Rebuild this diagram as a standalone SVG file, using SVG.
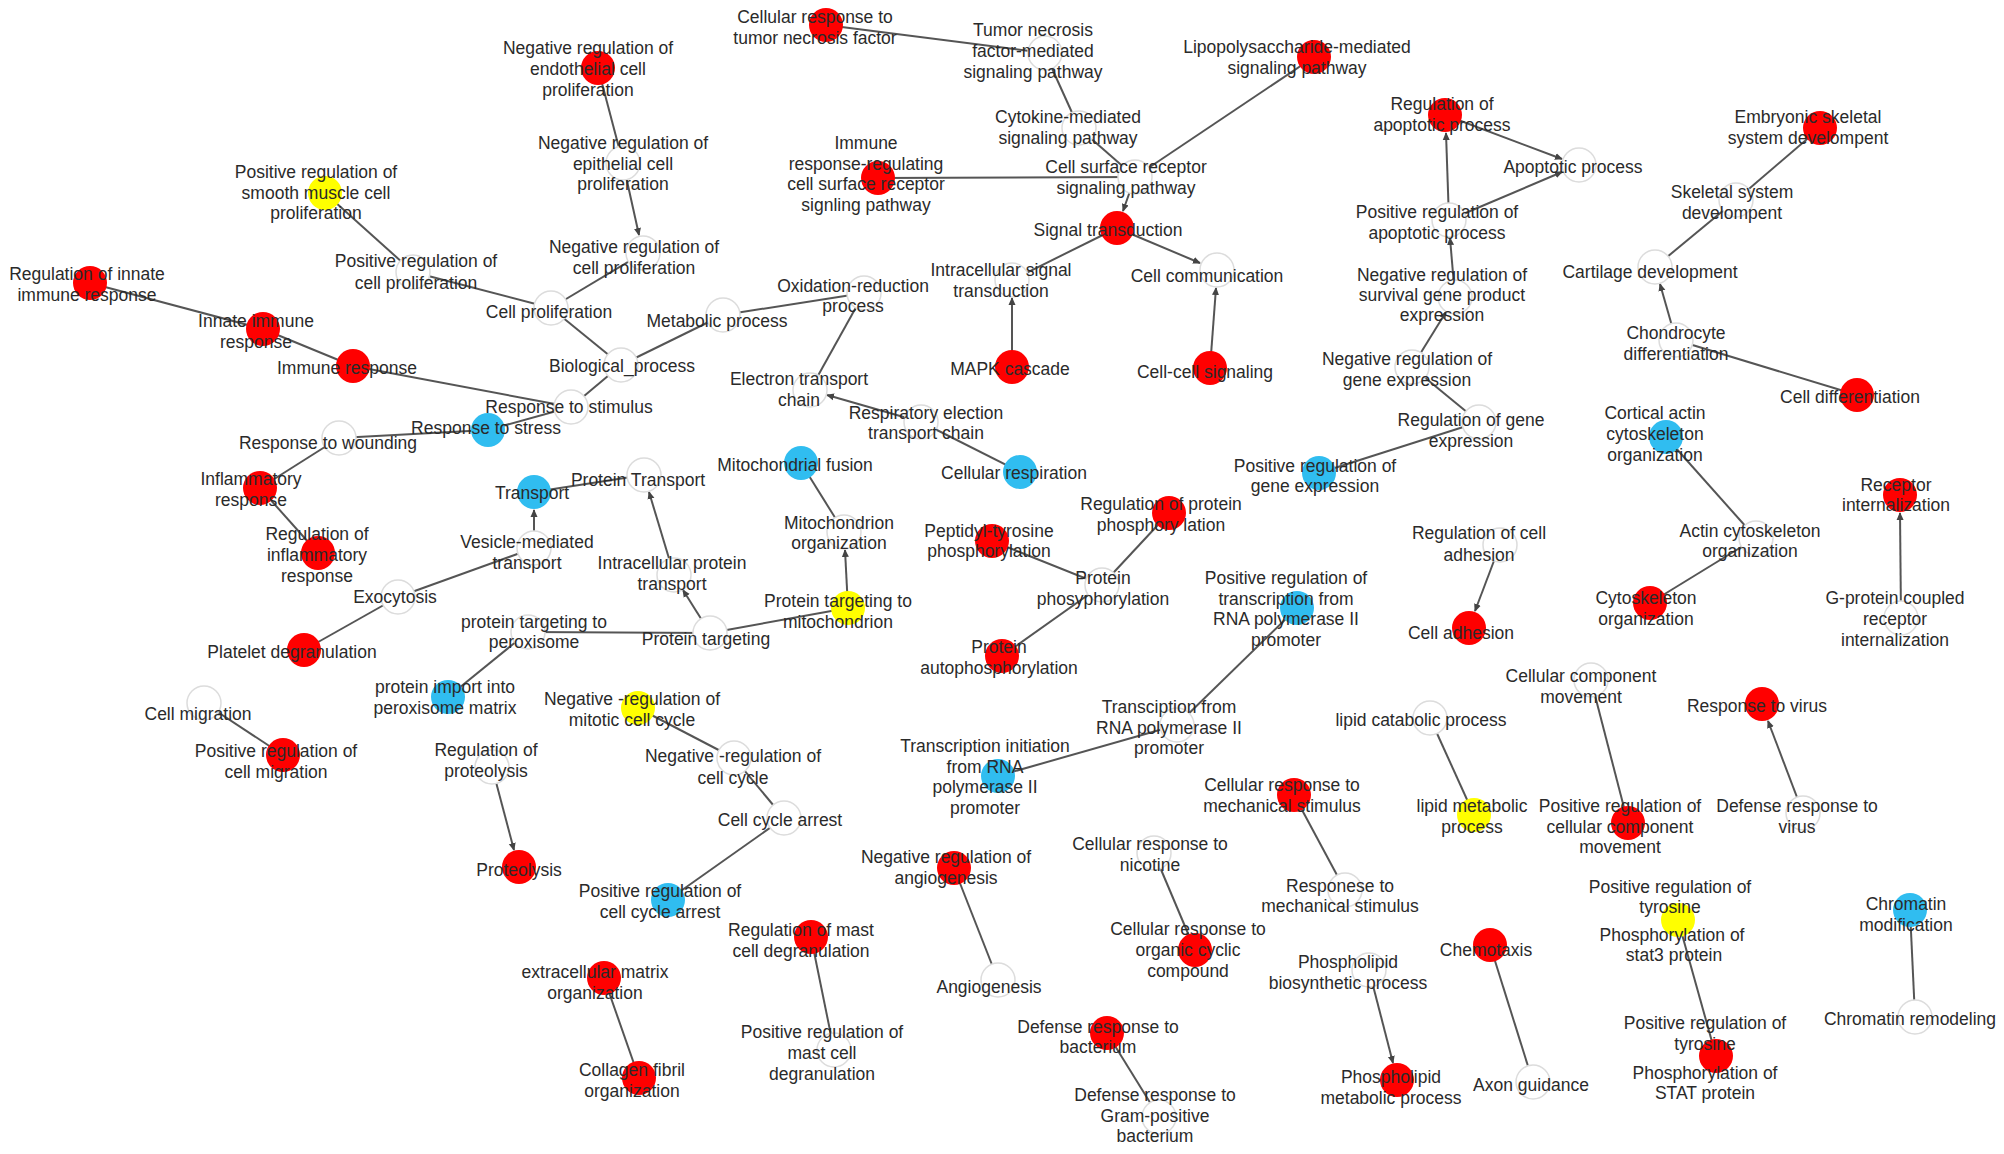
<svg xmlns="http://www.w3.org/2000/svg" width="2004" height="1154" viewBox="0 0 2004 1154">
<style>
text{font-family:"Liberation Sans",Arial,sans-serif;font-size:17.5px;fill:#2a2a2a;text-anchor:middle}
.r{fill:#ff0000}
.b{fill:#30bdf0}
.y{fill:#ffff00}
.w{fill:#ffffff;stroke:#dcdcdc;stroke-width:1.5}
#edges line{stroke:#555;stroke-width:2}
#edges line.a{marker-end:url(#arr)}
</style>
<defs>
<marker id="arr" markerWidth="8" markerHeight="8" refX="7" refY="4" orient="auto" markerUnits="userSpaceOnUse"><path d="M0,0.5 L8,4 L0,7.5 z" fill="#444"/></marker>
</defs>
<rect width="2004" height="1154" fill="#fff"/>
<g id="edges">
<line x1="90" y1="283" x2="263" y2="329"/>
<line x1="263" y1="329" x2="353" y2="366"/>
<line x1="353" y1="366" x2="571" y2="407"/>
<line x1="325" y1="193" x2="413" y2="272"/>
<line x1="413" y1="272" x2="551" y2="308"/>
<line x1="598" y1="68" x2="623" y2="163"/>
<line class="a" x1="623" y1="163" x2="639" y2="235"/>
<line x1="643" y1="253" x2="551" y2="308"/>
<line x1="551" y1="308" x2="621" y2="365"/>
<line x1="723" y1="315" x2="621" y2="365"/>
<line x1="864" y1="293" x2="723" y2="315"/>
<line x1="864" y1="293" x2="810" y2="390"/>
<line class="a" x1="921" y1="422" x2="827" y2="395"/>
<line x1="921" y1="422" x2="1020" y2="472"/>
<line x1="621" y1="365" x2="571" y2="407"/>
<line x1="488" y1="430" x2="571" y2="407"/>
<line x1="488" y1="430" x2="339" y2="438"/>
<line x1="339" y1="438" x2="260" y2="488"/>
<line x1="260" y1="488" x2="318" y2="553"/>
<line class="a" x1="534" y1="548" x2="534" y2="510"/>
<line x1="534" y1="492" x2="644" y2="475"/>
<line class="a" x1="674" y1="575" x2="649" y2="492"/>
<line class="a" x1="710" y1="633" x2="683" y2="590"/>
<line x1="528" y1="632" x2="710" y2="633"/>
<line x1="848" y1="608" x2="710" y2="633"/>
<line class="a" x1="848" y1="608" x2="845" y2="550"/>
<line x1="801" y1="463" x2="844" y2="532"/>
<line x1="448" y1="697" x2="528" y2="632"/>
<line x1="398" y1="597" x2="534" y2="548"/>
<line x1="304" y1="650" x2="398" y2="597"/>
<line x1="204" y1="703" x2="283" y2="755"/>
<line class="a" x1="492" y1="767" x2="514" y2="850"/>
<line x1="638" y1="708" x2="734" y2="758"/>
<line x1="734" y1="758" x2="784" y2="818"/>
<line x1="784" y1="818" x2="668" y2="900"/>
<line x1="811" y1="937" x2="834" y2="1050"/>
<line x1="604" y1="978" x2="639" y2="1078"/>
<line x1="954" y1="868" x2="998" y2="980"/>
<line x1="826" y1="25" x2="1045" y2="53"/>
<line x1="1045" y1="53" x2="1079" y2="128"/>
<line x1="1079" y1="128" x2="1135" y2="177"/>
<line x1="878" y1="178" x2="1135" y2="177"/>
<line x1="1314" y1="57" x2="1135" y2="177"/>
<line class="a" x1="1135" y1="177" x2="1123" y2="211"/>
<line x1="1117" y1="228" x2="1012" y2="280"/>
<line class="a" x1="1117" y1="228" x2="1200" y2="263"/>
<line class="a" x1="1210" y1="368" x2="1216" y2="288"/>
<line class="a" x1="1012" y1="367" x2="1012" y2="298"/>
<line x1="1169" y1="513" x2="1102" y2="585"/>
<line x1="992" y1="541" x2="1102" y2="585"/>
<line x1="1102" y1="585" x2="1002" y2="656"/>
<line x1="1297" y1="608" x2="1177" y2="725"/>
<line x1="1177" y1="725" x2="998" y2="776"/>
<line x1="1319" y1="473" x2="1479" y2="422"/>
<line x1="1412" y1="367" x2="1479" y2="422"/>
<line class="a" x1="1412" y1="367" x2="1446" y2="312"/>
<line class="a" x1="1455" y1="297" x2="1450" y2="238"/>
<line class="a" x1="1449" y1="220" x2="1446" y2="133"/>
<line class="a" x1="1445" y1="115" x2="1562" y2="159"/>
<line class="a" x1="1449" y1="220" x2="1562" y2="172"/>
<line x1="1820" y1="128" x2="1736" y2="200"/>
<line x1="1736" y1="200" x2="1655" y2="267"/>
<line class="a" x1="1676" y1="340" x2="1660" y2="284"/>
<line x1="1676" y1="340" x2="1857" y2="395"/>
<line x1="1666" y1="437" x2="1756" y2="538"/>
<line x1="1756" y1="538" x2="1650" y2="603"/>
<line class="a" x1="1901" y1="618" x2="1900" y2="513"/>
<line class="a" x1="1500" y1="545" x2="1475" y2="611"/>
<line x1="1430" y1="718" x2="1474" y2="815"/>
<line x1="1591" y1="680" x2="1628" y2="823"/>
<line class="a" x1="1803" y1="813" x2="1768" y2="721"/>
<line x1="1294" y1="795" x2="1345" y2="890"/>
<line x1="1154" y1="853" x2="1195" y2="950"/>
<line x1="1107" y1="1033" x2="1159" y2="1117"/>
<line class="a" x1="1369" y1="970" x2="1393" y2="1063"/>
<line x1="1490" y1="945" x2="1533" y2="1082"/>
<line x1="1678" y1="920" x2="1716" y2="1056"/>
<line x1="1910" y1="910" x2="1915" y2="1017"/>
</g>
<g id="n_reg_innate"><circle class="r" cx="90" cy="283" r="17"/><text x="87" y="280">Regulation of innate<tspan x="87" dy="21">immune response</tspan></text></g>
<g id="n_innate"><circle class="r" cx="263" cy="329" r="17"/><text x="256" y="327">Innate immune<tspan x="256" dy="21">response</tspan></text></g>
<g id="n_immune"><circle class="r" cx="353" cy="366" r="17"/><text x="347" y="374">Immune response</text></g>
<g id="n_smooth"><circle class="y" cx="325" cy="193" r="17"/><text x="316" y="178">Positive regulation of<tspan x="316" dy="20.5">smooth muscle cell</tspan><tspan x="316" dy="20.5">proliferation</tspan></text></g>
<g id="n_pos_prolif"><circle class="w" cx="413" cy="272" r="17"/><text x="416" y="267">Positive regulation of<tspan x="416" dy="21.5">cell proliferation</tspan></text></g>
<g id="n_cell_prolif"><circle class="w" cx="551" cy="308" r="17"/><text x="549" y="318">Cell proliferation</text></g>
<g id="n_endothelial"><circle class="r" cx="598" cy="68" r="17"/><text x="588" y="54">Negative regulation of<tspan x="588" dy="21">endothelial cell</tspan><tspan x="588" dy="21">proliferation</tspan></text></g>
<g id="n_epithelial"><circle class="w" cx="623" cy="163" r="17"/><text x="623" y="149">Negative regulation of<tspan x="623" dy="20.5">epithelial cell</tspan><tspan x="623" dy="20.5">proliferation</tspan></text></g>
<g id="n_neg_prolif"><circle class="w" cx="643" cy="253" r="17"/><text x="634" y="253">Negative regulation of<tspan x="634" dy="21">cell proliferation</tspan></text></g>
<g id="n_bio"><circle class="w" cx="621" cy="365" r="17"/><text x="622" y="372">Biological_process</text></g>
<g id="n_metabolic"><circle class="w" cx="723" cy="315" r="17"/><text x="717" y="327">Metabolic process</text></g>
<g id="n_oxidation"><circle class="w" cx="864" cy="293" r="17"/><text x="853" y="292">Oxidation-reduction<tspan x="853" dy="20">process</tspan></text></g>
<g id="n_electron"><circle class="w" cx="810" cy="390" r="17"/><text x="799" y="385">Electron transport<tspan x="799" dy="21">chain</tspan></text></g>
<g id="n_respiratory"><circle class="w" cx="921" cy="422" r="17"/><text x="926" y="419">Respiratory election<tspan x="926" dy="20">transport chain</tspan></text></g>
<g id="n_cell_resp"><circle class="b" cx="1020" cy="472" r="17"/><text x="1014" y="479">Cellular respiration</text></g>
<g id="n_stimulus"><circle class="w" cx="571" cy="407" r="17"/><text x="569" y="413">Response to stimulus</text></g>
<g id="n_stress"><circle class="b" cx="488" cy="430" r="17"/><text x="486" y="434">Response to stress</text></g>
<g id="n_wounding"><circle class="w" cx="339" cy="438" r="17"/><text x="328" y="449">Response to wounding</text></g>
<g id="n_inflam"><circle class="r" cx="260" cy="488" r="17"/><text x="251" y="485">Inflammatory<tspan x="251" dy="21">response</tspan></text></g>
<g id="n_reg_inflam"><circle class="r" cx="318" cy="553" r="17"/><text x="317" y="540">Regulation of<tspan x="317" dy="21">inflammatory</tspan><tspan x="317" dy="21">response</tspan></text></g>
<g id="n_transport"><circle class="b" cx="534" cy="492" r="17"/><text x="532" y="499">Transport</text></g>
<g id="n_prot_transport"><circle class="w" cx="644" cy="475" r="17"/><text x="638" y="486">Protein Transport</text></g>
<g id="n_vesicle"><circle class="w" cx="534" cy="548" r="17"/><text x="527" y="548">Vesicle-mediated<tspan x="527" dy="21">transport</tspan></text></g>
<g id="n_intra_prot"><circle class="w" cx="674" cy="575" r="17"/><text x="672" y="569">Intracellular protein<tspan x="672" dy="21">transport</tspan></text></g>
<g id="n_prot_targeting"><circle class="w" cx="710" cy="633" r="17"/><text x="706" y="645">Protein targeting</text></g>
<g id="n_perox"><circle class="w" cx="528" cy="632" r="17"/><text x="534" y="628">protein targeting to<tspan x="534" dy="20">peroxisome</tspan></text></g>
<g id="n_prot_mito"><circle class="y" cx="848" cy="608" r="17"/><text x="838" y="607">Protein targeting to<tspan x="838" dy="21">mitochondrion</tspan></text></g>
<g id="n_mito_org"><circle class="w" cx="844" cy="532" r="17"/><text x="839" y="529">Mitochondrion<tspan x="839" dy="20">organization</tspan></text></g>
<g id="n_mito_fusion"><circle class="b" cx="801" cy="463" r="17"/><text x="795" y="471">Mitochondrial fusion</text></g>
<g id="n_import"><circle class="b" cx="448" cy="697" r="17"/><text x="445" y="693">protein import into<tspan x="445" dy="21">peroxisome matrix</tspan></text></g>
<g id="n_exocytosis"><circle class="w" cx="398" cy="597" r="17"/><text x="395" y="603">Exocytosis</text></g>
<g id="n_platelet"><circle class="r" cx="304" cy="650" r="17"/><text x="292" y="658">Platelet degranulation</text></g>
<g id="n_cell_migration"><circle class="w" cx="204" cy="703" r="17"/><text x="198" y="720">Cell migration</text></g>
<g id="n_pos_migration"><circle class="r" cx="283" cy="755" r="17"/><text x="276" y="757">Positive regulation of<tspan x="276" dy="21">cell migration</tspan></text></g>
<g id="n_reg_proteolysis"><circle class="w" cx="492" cy="767" r="17"/><text x="486" y="756">Regulation of<tspan x="486" dy="21">proteolysis</tspan></text></g>
<g id="n_proteolysis"><circle class="r" cx="519" cy="867" r="17"/><text x="519" y="876">Proteolysis</text></g>
<g id="n_neg_mitotic"><circle class="y" cx="638" cy="708" r="17"/><text x="632" y="705">Negative -regulation of<tspan x="632" dy="21">mitotic cell cycle</tspan></text></g>
<g id="n_neg_cellcycle"><circle class="w" cx="734" cy="758" r="17"/><text x="733" y="762">Negative -regulation of<tspan x="733" dy="22">cell cycle</tspan></text></g>
<g id="n_arrest"><circle class="w" cx="784" cy="818" r="17"/><text x="780" y="826">Cell cycle arrest</text></g>
<g id="n_pos_arrest"><circle class="b" cx="668" cy="900" r="17"/><text x="660" y="897">Positive regulation of<tspan x="660" dy="21">cell cycle arrest</tspan></text></g>
<g id="n_reg_mast"><circle class="r" cx="811" cy="937" r="17"/><text x="801" y="936">Regulation of mast<tspan x="801" dy="21">cell degranulation</tspan></text></g>
<g id="n_pos_mast"><circle class="w" cx="834" cy="1050" r="17"/><text x="822" y="1038">Positive regulation of<tspan x="822" dy="21">mast cell</tspan><tspan x="822" dy="20.5">degranulation</tspan></text></g>
<g id="n_ecm"><circle class="r" cx="604" cy="978" r="17"/><text x="595" y="978">extracellular matrix<tspan x="595" dy="21">organization</tspan></text></g>
<g id="n_collagen"><circle class="r" cx="639" cy="1078" r="17"/><text x="632" y="1076">Collagen fibril<tspan x="632" dy="21">organization</tspan></text></g>
<g id="n_neg_angio"><circle class="r" cx="954" cy="868" r="17"/><text x="946" y="863">Negative regulation of<tspan x="946" dy="21">angiogenesis</tspan></text></g>
<g id="n_angio"><circle class="w" cx="998" cy="980" r="17"/><text x="989" y="993">Angiogenesis</text></g>
<g id="n_tnf_cell"><circle class="r" cx="826" cy="25" r="17"/><text x="815" y="23">Cellular response to<tspan x="815" dy="21">tumor necrosis factor</tspan></text></g>
<g id="n_tnf"><circle class="w" cx="1045" cy="53" r="17"/><text x="1033" y="36">Tumor necrosis<tspan x="1033" dy="21">factor-mediated</tspan><tspan x="1033" dy="21">signaling pathway</tspan></text></g>
<g id="n_cytokine"><circle class="w" cx="1079" cy="128" r="17"/><text x="1068" y="123">Cytokine-mediated<tspan x="1068" dy="20.5">signaling pathway</tspan></text></g>
<g id="n_cell_surface"><circle class="w" cx="1135" cy="177" r="17"/><text x="1126" y="173">Cell surface receptor<tspan x="1126" dy="21">signaling pathway</tspan></text></g>
<g id="n_immune_reg"><circle class="r" cx="878" cy="178" r="17"/><text x="866" y="149">Immune<tspan x="866" dy="20.7">response-regulating</tspan><tspan x="866" dy="20.7">cell surface receptor</tspan><tspan x="866" dy="20.7">signling pathway</tspan></text></g>
<g id="n_lps"><circle class="r" cx="1314" cy="57" r="17"/><text x="1297" y="53">Lipopolysaccharide-mediated<tspan x="1297" dy="21">signaling pathway</tspan></text></g>
<g id="n_signal"><circle class="r" cx="1117" cy="228" r="17"/><text x="1108" y="236">Signal transduction</text></g>
<g id="n_intra_signal"><circle class="w" cx="1012" cy="280" r="17"/><text x="1001" y="276">Intracellular signal<tspan x="1001" dy="21">transduction</tspan></text></g>
<g id="n_cell_comm"><circle class="w" cx="1217" cy="270" r="17"/><text x="1207" y="282">Cell communication</text></g>
<g id="n_cellcell"><circle class="r" cx="1210" cy="368" r="17"/><text x="1205" y="378">Cell-cell signaling</text></g>
<g id="n_mapk"><circle class="r" cx="1012" cy="367" r="17"/><text x="1010" y="375">MAPK cascade</text></g>
<g id="n_reg_apop"><circle class="r" cx="1445" cy="115" r="17"/><text x="1442" y="110">Regulation of<tspan x="1442" dy="21">apoptotic process</tspan></text></g>
<g id="n_pos_apop"><circle class="w" cx="1449" cy="220" r="17"/><text x="1437" y="218">Positive regulation of<tspan x="1437" dy="21">apoptotic process</tspan></text></g>
<g id="n_neg_survival"><circle class="w" cx="1455" cy="297" r="17"/><text x="1442" y="281">Negative regulation of<tspan x="1442" dy="20">survival gene product</tspan><tspan x="1442" dy="20">expression</tspan></text></g>
<g id="n_neg_gene"><circle class="w" cx="1412" cy="367" r="17"/><text x="1407" y="365">Negative regulation of<tspan x="1407" dy="21">gene expression</tspan></text></g>
<g id="n_apop"><circle class="w" cx="1579" cy="165" r="17"/><text x="1573" y="173">Apoptotic process</text></g>
<g id="n_embryonic"><circle class="r" cx="1820" cy="128" r="17"/><text x="1808" y="123">Embryonic skeletal<tspan x="1808" dy="20.5">system develompent</tspan></text></g>
<g id="n_skeletal"><circle class="w" cx="1736" cy="200" r="17"/><text x="1732" y="198">Skeletal system<tspan x="1732" dy="21">develompent</tspan></text></g>
<g id="n_cartilage"><circle class="w" cx="1655" cy="267" r="17"/><text x="1650" y="278">Cartilage development</text></g>
<g id="n_chondro"><circle class="w" cx="1676" cy="340" r="17"/><text x="1676" y="339">Chondrocyte<tspan x="1676" dy="21">differentiation</tspan></text></g>
<g id="n_cell_diff"><circle class="r" cx="1857" cy="395" r="17"/><text x="1850" y="403">Cell differentiation</text></g>
<g id="n_cortical"><circle class="b" cx="1666" cy="437" r="17"/><text x="1655" y="419">Cortical actin<tspan x="1655" dy="21">cytoskeleton</tspan><tspan x="1655" dy="21">organization</tspan></text></g>
<g id="n_actin"><circle class="w" cx="1756" cy="538" r="17"/><text x="1750" y="537">Actin cytoskeleton<tspan x="1750" dy="20">organization</tspan></text></g>
<g id="n_cytoskel"><circle class="r" cx="1650" cy="603" r="17"/><text x="1646" y="604">Cytoskeleton<tspan x="1646" dy="21">organization</tspan></text></g>
<g id="n_receptor"><circle class="r" cx="1900" cy="495" r="17"/><text x="1896" y="491">Receptor<tspan x="1896" dy="20">internalization</tspan></text></g>
<g id="n_gprotein"><circle class="w" cx="1901" cy="618" r="17"/><text x="1895" y="604">G-protein coupled<tspan x="1895" dy="21">receptor</tspan><tspan x="1895" dy="21">internalization</tspan></text></g>
<g id="n_reg_adhesion"><circle class="w" cx="1500" cy="545" r="17"/><text x="1479" y="539">Regulation of cell<tspan x="1479" dy="22">adhesion</tspan></text></g>
<g id="n_adhesion"><circle class="r" cx="1469" cy="628" r="17"/><text x="1461" y="639">Cell adhesion</text></g>
<g id="n_pos_gene"><circle class="b" cx="1319" cy="473" r="17"/><text x="1315" y="472">Positive regulation of<tspan x="1315" dy="20">gene expression</tspan></text></g>
<g id="n_reg_gene"><circle class="w" cx="1479" cy="422" r="17"/><text x="1471" y="426">Regulation of gene<tspan x="1471" dy="21">expression</tspan></text></g>
<g id="n_reg_prot_phos"><circle class="r" cx="1169" cy="513" r="17"/><text x="1161" y="510">Regulation of protein<tspan x="1161" dy="21">phosphory lation</tspan></text></g>
<g id="n_peptidyl"><circle class="r" cx="992" cy="541" r="17"/><text x="989" y="537">Peptidyl-tyrosine<tspan x="989" dy="20">phosphorylation</tspan></text></g>
<g id="n_prot_phos"><circle class="w" cx="1102" cy="585" r="17"/><text x="1103" y="584">Protein<tspan x="1103" dy="21">phosyphorylation</tspan></text></g>
<g id="n_autophos"><circle class="r" cx="1002" cy="656" r="17"/><text x="999" y="653">Protein<tspan x="999" dy="21">autophosphorylation</tspan></text></g>
<g id="n_pos_transcr"><circle class="b" cx="1297" cy="608" r="17"/><text x="1286" y="584">Positive regulation of<tspan x="1286" dy="20.7">transcription from</tspan><tspan x="1286" dy="20.7">RNA polymerase II</tspan><tspan x="1286" dy="20.7">promoter</tspan></text></g>
<g id="n_transcr"><circle class="w" cx="1177" cy="725" r="17"/><text x="1169" y="713">Transciption from<tspan x="1169" dy="20.5">RNA polymerase II</tspan><tspan x="1169" dy="20.5">promoter</tspan></text></g>
<g id="n_transcr_init"><circle class="b" cx="998" cy="776" r="17"/><text x="985" y="752">Transcription initiation<tspan x="985" dy="20.7">from RNA</tspan><tspan x="985" dy="20.7">polymerase II</tspan><tspan x="985" dy="20.7">promoter</tspan></text></g>
<g id="n_lipid_cat"><circle class="w" cx="1430" cy="718" r="17"/><text x="1421" y="726">lipid catabolic process</text></g>
<g id="n_lipid_met"><circle class="y" cx="1474" cy="815" r="17"/><text x="1472" y="812">lipid metabolic<tspan x="1472" dy="21">process</tspan></text></g>
<g id="n_ccm"><circle class="w" cx="1591" cy="680" r="17"/><text x="1581" y="682">Cellular component<tspan x="1581" dy="21">movement</tspan></text></g>
<g id="n_pos_ccm"><circle class="r" cx="1628" cy="823" r="17"/><text x="1620" y="812">Positive regulation of<tspan x="1620" dy="20.5">cellular component</tspan><tspan x="1620" dy="20.5">movement</tspan></text></g>
<g id="n_virus"><circle class="r" cx="1762" cy="704" r="17"/><text x="1757" y="712">Response to virus</text></g>
<g id="n_def_virus"><circle class="w" cx="1803" cy="813" r="17"/><text x="1797" y="812">Defense response to<tspan x="1797" dy="21">virus</tspan></text></g>
<g id="n_mech_cell"><circle class="r" cx="1294" cy="795" r="17"/><text x="1282" y="791">Cellular response to<tspan x="1282" dy="21">mechanical stimulus</tspan></text></g>
<g id="n_mech"><circle class="w" cx="1345" cy="890" r="17"/><text x="1340" y="892">Responese to<tspan x="1340" dy="20">mechanical stimulus</tspan></text></g>
<g id="n_nicotine"><circle class="w" cx="1154" cy="853" r="17"/><text x="1150" y="850">Cellular response to<tspan x="1150" dy="21">nicotine</tspan></text></g>
<g id="n_organic"><circle class="r" cx="1195" cy="950" r="17"/><text x="1188" y="935">Cellular response to<tspan x="1188" dy="21">organic cyclic</tspan><tspan x="1188" dy="21">compound</tspan></text></g>
<g id="n_def_bact"><circle class="r" cx="1107" cy="1033" r="17"/><text x="1098" y="1033">Defense response to<tspan x="1098" dy="20">bacterium</tspan></text></g>
<g id="n_gram"><circle class="w" cx="1159" cy="1117" r="17"/><text x="1155" y="1101">Defense response to<tspan x="1155" dy="20.5">Gram-positive</tspan><tspan x="1155" dy="20.5">bacterium</tspan></text></g>
<g id="n_phos_bio"><circle class="w" cx="1369" cy="970" r="17"/><text x="1348" y="968">Phospholipid<tspan x="1348" dy="21">biosynthetic process</tspan></text></g>
<g id="n_phos_met"><circle class="r" cx="1397" cy="1080" r="17"/><text x="1391" y="1083">Phospholipid<tspan x="1391" dy="21">metabolic process</tspan></text></g>
<g id="n_chemotaxis"><circle class="r" cx="1490" cy="945" r="17"/><text x="1486" y="956">Chemotaxis</text></g>
<g id="n_axon"><circle class="w" cx="1533" cy="1082" r="17"/><text x="1531" y="1091">Axon guidance</text></g>
<g id="n_stat3"><circle class="y" cx="1678" cy="920" r="17"/><text x="1670" y="893">Positive regulation of<tspan x="1670" y="913">tyrosine</tspan><tspan x="1672" y="941">Phosphorylation of</tspan><tspan x="1674" y="961">stat3 protein</tspan></text></g>
<g id="n_stat"><circle class="r" cx="1716" cy="1056" r="17"/><text x="1705" y="1029">Positive regulation of<tspan x="1705" y="1050">tyrosine</tspan><tspan x="1705" y="1079">Phosphorylation of</tspan><tspan x="1705" y="1099">STAT protein</tspan></text></g>
<g id="n_chrom_mod"><circle class="b" cx="1910" cy="910" r="17"/><text x="1906" y="910">Chromatin<tspan x="1906" dy="21">modification</tspan></text></g>
<g id="n_chrom_rem"><circle class="w" cx="1915" cy="1017" r="17"/><text x="1910" y="1025">Chromatin remodeling</text></g>
</svg>
